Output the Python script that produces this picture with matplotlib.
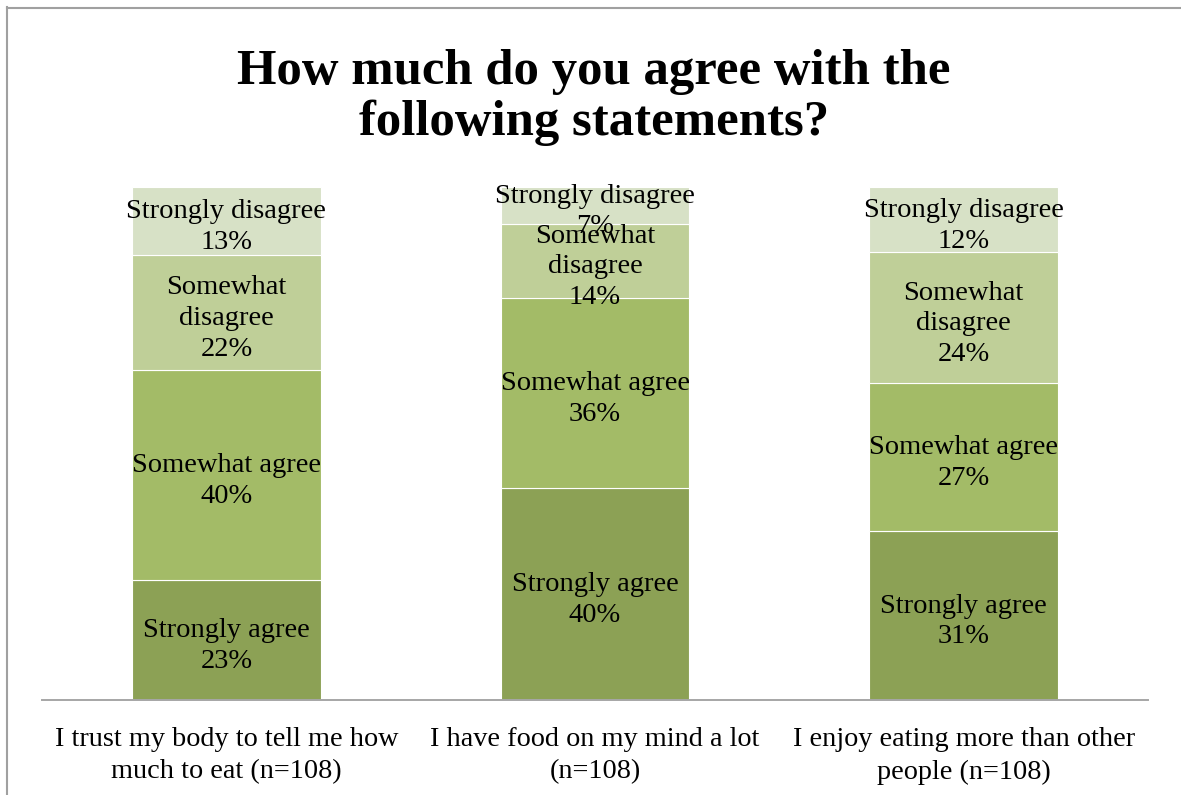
import numpy as np
import matplotlib.pyplot as plt
from matplotlib.lines import Line2D

# survey answers per statement, in percent (as reported)
statements = ["I trust my body to tell me how\nmuch to eat (n=108)",
              "I have food on my mind a lot\n(n=108)",
              "I enjoy eating more than other\npeople (n=108)"]
answers = ["Strongly agree", "Somewhat agree", "Somewhat disagree", "Strongly disagree"]
answer_labels = ["Strongly agree", "Somewhat agree", "Somewhat\ndisagree", "Strongly disagree"]
strongly_agree = [23, 40, 31]
somewhat_agree = [40, 36, 27]
somewhat_disagree = [22, 14, 24]
strongly_disagree = [13, 7, 12]

colors = ["#8ca155", "#a3bb67", "#bfcf98", "#d7e1c6"]


def main():
    plt.rcParams['font.family'] = ['Liberation Serif', 'DejaVu Serif']

    fig = plt.figure(figsize=(11.81, 7.95), dpi=100)
    ax = fig.add_axes([0.0356, 0.1195, 0.9365, 0.6453])

    data = np.array([strongly_agree, somewhat_agree, somewhat_disagree, strongly_disagree], dtype=float)
    # 100% stacked: each bar is scaled to its own total
    shares = data / data.sum(axis=0)
    x = np.arange(len(statements))
    bottom = np.zeros(len(statements))

    for i in range(len(answers)):
        bars = ax.bar(x, shares[i], 0.512, bottom=bottom, color=colors[i],
                      edgecolor="white", linewidth=0.8, label=answers[i])
        for j, b in enumerate(bars):
            cy = bottom[j] + shares[i][j] / 2
            ax.annotate(f"{answer_labels[i]}\n{data[i][j]:.0f}%",
                        (b.get_x() + b.get_width() / 2, cy),
                        xytext=(0, -4.3), textcoords="offset points",
                        ha="center", va="center", fontsize=20.5, linespacing=1.3)
        bottom += shares[i]

    ax.set_xlim(-0.5, 2.5)
    ax.set_ylim(0, 1)
    ax.set_yticks([])
    ax.set_xticks(x)
    ax.set_xticklabels(statements, fontsize=20.3, linespacing=1.38)
    ax.tick_params(axis="x", length=0, pad=19.5)
    for side in ["top", "right", "left"]:
        ax.spines[side].set_visible(False)
    ax.spines["bottom"].set_color("#a6a6a6")
    ax.spines["bottom"].set_linewidth(1.4)

    fig.text(0.503, 0.877, "How much do you agree with the\nfollowing statements?",
             ha="center", va="center", fontsize=36.5, fontweight="bold", linespacing=1.13)

    # chart frame (top and left edges)
    fig.add_artist(Line2D([0.006, 1.0], [0.9905, 0.9905], color="#a0a0a0", lw=1.5))
    fig.add_artist(Line2D([0.0063, 0.0063], [0.0, 0.991], color="#a0a0a0", lw=1.5))

    fig.savefig("out.png", dpi=100)


if __name__ == "__main__":
    main()
